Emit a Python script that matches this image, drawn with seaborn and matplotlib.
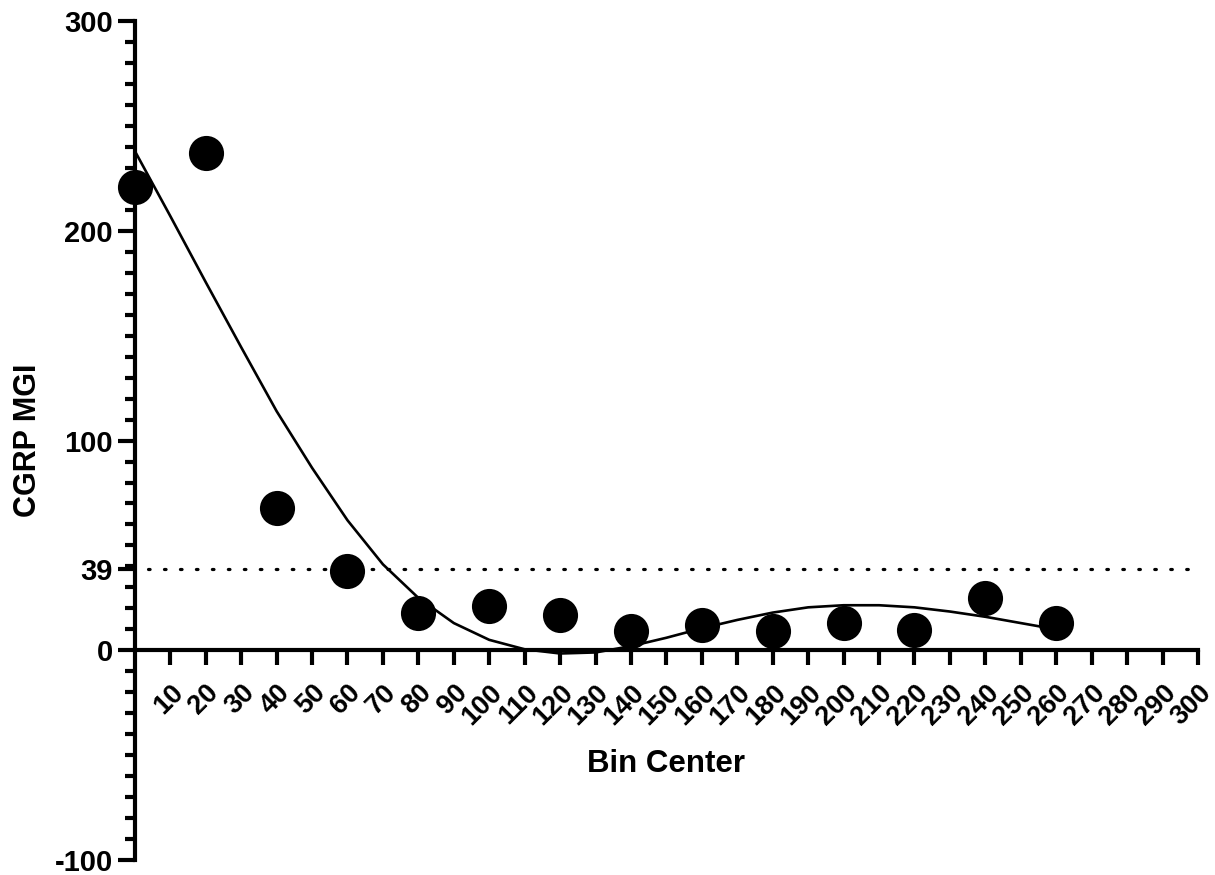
import numpy as np
import pandas as pd
import matplotlib
matplotlib.use("Agg")
import matplotlib.pyplot as plt
import seaborn as sns
from matplotlib.ticker import FixedLocator

# Data points (bin center vs CGRP MGI)
bin_centers = [0, 20, 40, 60, 80, 100, 120, 140, 160, 180, 200, 220, 240, 260]
mgi_values = [221, 237, 68, 38, 18, 21, 17, 9, 12, 9, 13, 9.5, 25, 13]

# Fitted curve
curve_x = [0, 10, 20, 30, 40, 50, 60, 70, 80, 90, 100, 110, 120, 130, 140,
           150, 160, 170, 180, 190, 200, 210, 220, 230, 240, 250, 260]
curve_y = [238, 207, 175.5, 144.5, 114, 87, 62, 41, 25, 13, 5, 0.5, -1.5, -1, 2,
           6, 10.5, 14.5, 18, 20.5, 21.5, 21.5, 20.5, 18.5, 16, 13, 10]

threshold = 39
x_ticks = list(range(10, 301, 10))
y_ticks = [-100, 0, 39, 100, 200, 300]

points = pd.DataFrame({"Bin Center": bin_centers, "CGRP MGI": mgi_values})
curve = pd.DataFrame({"x": curve_x, "y": curve_y})

sns.set_style("ticks", {"axes.edgecolor": "black", "text.color": "black",
                        "xtick.color": "black", "ytick.color": "black",
                        "axes.labelcolor": "black"})
plt.rcParams["font.family"] = ["Liberation Sans", "DejaVu Sans"]
plt.rcParams["font.weight"] = "bold"

fig = plt.figure(figsize=(12.15, 8.75), dpi=100)
ax = fig.add_axes([0.111, 0.017, 0.875, 0.959])

# threshold line
ax.axhline(threshold, color="black", linestyle=(0, (0.5, 4.5)), linewidth=2.3,
           dash_capstyle="round", xmin=0.012, xmax=0.995)

sns.lineplot(data=curve, x="x", y="y", color="black", linewidth=1.9, ax=ax,
             clip_on=False)
sns.scatterplot(data=points, x="Bin Center", y="CGRP MGI", color="black", s=640,
                edgecolor="black", linewidth=0, ax=ax, clip_on=False, zorder=5)

ax.set_xlim(0, 300)
ax.set_ylim(-100, 300)

# axis styling
for side in ["top", "right"]:
    ax.spines[side].set_visible(False)
ax.spines["bottom"].set_position(("data", 0))
ax.spines["left"].set_linewidth(3)
ax.spines["bottom"].set_linewidth(3)

ax.set_xticks(x_ticks)
ax.set_xticklabels([str(t) for t in x_ticks], rotation=45, ha="right",
                   rotation_mode="anchor", fontsize=19.5, fontweight="bold")
ax.set_yticks(y_ticks)
ax.set_yticklabels([str(t) for t in y_ticks], fontsize=21, fontweight="bold")
ax.yaxis.set_minor_locator(FixedLocator([v for v in range(-100, 301, 10) if v not in y_ticks]))

ax.tick_params(axis="x", which="major", length=11, width=3, direction="out", pad=10)
ax.tick_params(axis="y", which="major", length=12, width=3, direction="out", pad=4)
ax.tick_params(axis="y", which="minor", length=7, width=3, direction="out")

ax.set_xlabel("Bin Center", fontsize=22.5, fontweight="bold", labelpad=14)
ax.set_ylabel("CGRP MGI", fontsize=22, fontweight="bold", labelpad=8)

fig.savefig("out.png", dpi=100)
